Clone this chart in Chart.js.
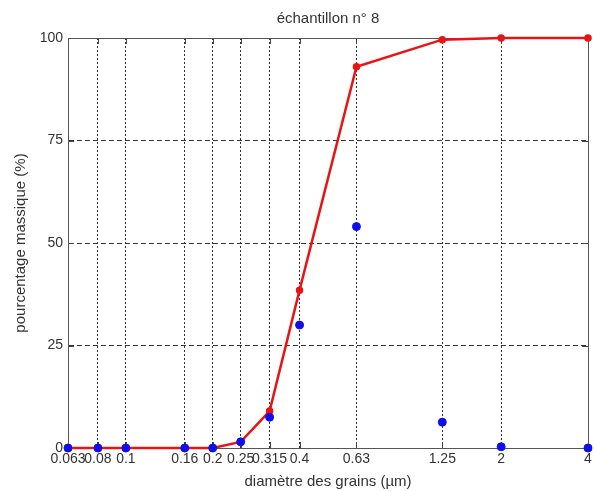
<!DOCTYPE html>
<html>
<head>
<meta charset="utf-8">
<script src="https://cdn.jsdelivr.net/npm/chart.js@4"></script>
<style>
  html, body { margin: 0; padding: 0; background: #fff; }
  #wrap { width: 595px; height: 491px; }
</style>
</head>
<body>
<div id="wrap"><canvas id="myChart"></canvas></div>
<script>
const diameters = [0.063, 0.08, 0.1, 0.16, 0.2, 0.25, 0.315, 0.4, 0.63, 1.25, 2, 4];
const cumulative = [0, 0, 0, 0, 0, 1.5, 9, 38.5, 93, 99.6, 100, 100];
const retained = [0, 0, 0, 0, 0, 1.5, 7.5, 30, 54, 6.3, 0.3, 0];
const yTicks = [0, 25, 50, 75, 100];

const toPoints = (vals) => diameters.map((d, i) => ({ x: d, y: vals[i] }));

Chart.defaults.font.family = 'Arial, "Liberation Sans", sans-serif';
Chart.defaults.font.size = 14;
Chart.defaults.color = '#333';

const data = {
    datasets: [{
        label: 'retained',
        data: toPoints(retained),
        showLine: false,
        pointRadius: 4,
        pointBackgroundColor: 'rgb(15, 15, 235)',
        pointBorderColor: 'rgb(15, 15, 235)',
        clip: false
    }, {
        label: 'cumulative',
        data: toPoints(cumulative),
        showLine: true,
        borderColor: 'rgb(232, 20, 20)',
        borderWidth: 2.5,
        pointRadius: 2.5,
        pointBackgroundColor: 'rgb(232, 20, 20)',
        pointBorderColor: 'rgb(232, 20, 20)',
        tension: 0,
        clip: false
    }]
};

const config = {
    type: 'scatter',
    data: data,
    options: {
        responsive: false,
        animation: false,
        layout: { padding: { left: 0, right: 7, top: 0, bottom: 0 } },
        plugins: {
            legend: { display: false },
            tooltip: { enabled: false },
            title: {
                display: true,
                text: 'échantillon n° 8',
                fullSize: false,
                font: { size: 15, weight: 'normal' },
                color: '#333',
                padding: { top: 10, bottom: 10 }
            }
        },
        scales: {
            x: {
                type: 'logarithmic',
                min: 0.063,
                max: 4,
                afterBuildTicks: (scale) => {
                    scale.ticks = diameters.map(v => ({ value: v }));
                },
                afterFit: (scale) => { scale.height = 43; },
                ticks: {
                    autoSkip: false,
                    maxRotation: 0,
                    padding: 3,
                    color: '#333',
                    font: { size: 14 },
                    callback: (v) => String(v)
                },
                grid: {
                    drawTicks: false,
                    color: '#333',
                    lineWidth: 1
                },
                border: { display: true, color: '#555', dash: [2, 2] },
                title: {
                    display: true,
                    text: 'diamètre des grains (µm)',
                    color: '#333',
                    font: { size: 15 },
                    padding: { top: 0, bottom: 0 }
                }
            },
            y: {
                min: 0,
                max: 100,
                afterBuildTicks: (scale) => {
                    scale.ticks = yTicks.map(v => ({ value: v }));
                },
                afterFit: (scale) => { scale.width = 68; },
                ticks: { padding: 5, color: '#333', font: { size: 14 } },
                grid: {
                    drawTicks: false,
                    color: '#333',
                    lineWidth: 1
                },
                border: { display: true, color: '#555', dash: [5, 3] },
                title: {
                    display: true,
                    text: 'pourcentage massique (%)',
                    color: '#333',
                    font: { size: 15 },
                    padding: { top: 12, bottom: 0 }
                }
            }
        }
    },
    plugins: [{
        id: 'frame',
        beforeDatasetsDraw(chart) {
            const { ctx, chartArea: a, scales } = chart;
            ctx.save();
            ctx.strokeStyle = '#444';
            ctx.lineWidth = 1;
            ctx.setLineDash([]);
            // inner tick marks, matlab style
            diameters.forEach(v => {
                const px = Math.round(scales.x.getPixelForValue(v)) + 0.5;
                ctx.beginPath();
                ctx.moveTo(px, a.bottom); ctx.lineTo(px, a.bottom - 6);
                ctx.moveTo(px, a.top); ctx.lineTo(px, a.top + 6);
                ctx.stroke();
            });
            yTicks.forEach(v => {
                const py = Math.round(scales.y.getPixelForValue(v)) + 0.5;
                ctx.beginPath();
                ctx.moveTo(a.left, py); ctx.lineTo(a.left + 6, py);
                ctx.moveTo(a.right, py); ctx.lineTo(a.right - 6, py);
                ctx.stroke();
            });
            ctx.strokeStyle = '#555';
            ctx.strokeRect(a.left + 0.5, a.top + 0.5, a.right - a.left, a.bottom - a.top);
            ctx.restore();
        }
    }]
};

const canvas = document.getElementById('myChart');
canvas.width = 595;
canvas.height = 491;
const myChart = new Chart(canvas, config);
</script>
</body>
</html>
